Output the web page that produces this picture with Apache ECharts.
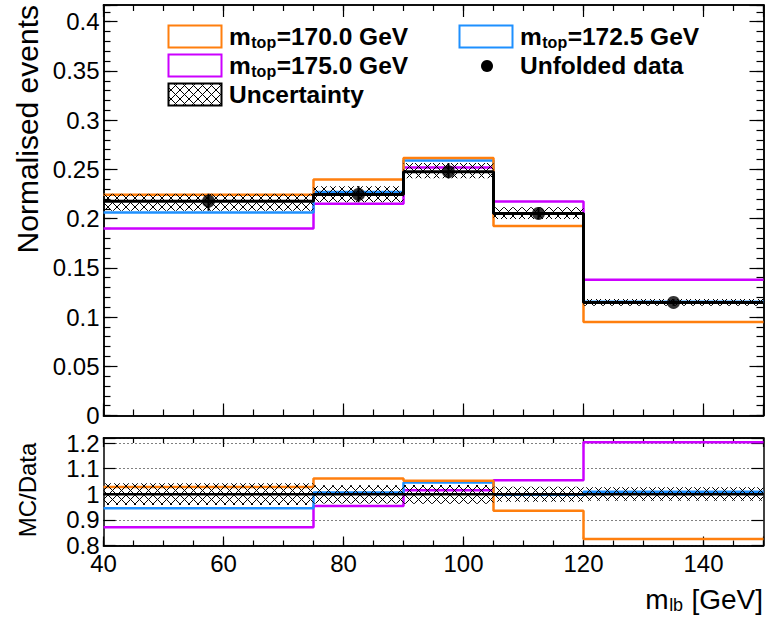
<!DOCTYPE html>
<html><head><meta charset="utf-8">
<script src="https://cdn.jsdelivr.net/npm/echarts@6/dist/echarts.min.js"></script>
<style>html,body{margin:0;padding:0;background:#fff}#c{width:765px;height:619px}</style>
</head><body><div id="c"></div>
<script>
// ---- data ----
const binEdges = [40, 75, 90, 105, 120, 150];
const binCenters = [57.5, 82.5, 97.5, 112.5, 135];
const data = [0.2177, 0.2246, 0.2477, 0.2053, 0.1149];
const dataUp = [0.2253, 0.2330, 0.2564, 0.2115, 0.1183];
const dataDown = [0.2080, 0.2167, 0.2409, 0.1995, 0.1115];
const mc170 = [0.2243, 0.2398, 0.2616, 0.1925, 0.0949];
const mc1725 = [0.2063, 0.2270, 0.2591, 0.2053, 0.1155];
const mc175 = [0.1900, 0.2150, 0.2519, 0.2174, 0.1380];
const ratio170 = [1.029, 1.062, 1.053, 0.936, 0.825];
const ratio1725 = [0.946, 1.007, 1.046, 0.998, 1.010];
const ratio175 = [0.871, 0.954, 1.016, 1.055, 1.203];
const ratioData = [1, 1, 1, 1, 1];
const ratioUp = [1.043, 1.035, 1.036, 1.030, 1.028];
const ratioDown = [0.958, 0.964, 0.963, 0.971, 0.975];
const legendLabels = ['170.0', '172.5', '175.0'];

const C170 = '#ff7f0e', C1725 = '#1e90ff', C175 = '#cc00ff';
const FONT = "'Liberation Sans', Arial, Helvetica, sans-serif";

// hatch pattern
const hc = document.createElement('canvas');
hc.width = 9; hc.height = 9;
const hx = hc.getContext('2d');
hx.strokeStyle = '#000'; hx.lineWidth = 1;
hx.beginPath(); hx.moveTo(0, 0); hx.lineTo(9, 9); hx.moveTo(9, 0); hx.lineTo(0, 9); hx.stroke();
const hatch = { image: hc.toDataURL(), repeat: 'repeat', imageWidth: 9, imageHeight: 9 };

// text measuring
const mctx = document.createElement('canvas').getContext('2d');
function tw(text, size, weight) {
  mctx.font = (weight || 'normal') + ' ' + size + 'px ' + FONT;
  return mctx.measureText(text).width;
}

function fmt(step) {
  return function (v) {
    const k = v / step;
    if (Math.abs(k - Math.round(k)) > 1e-6) return '';
    return String(+(+v).toFixed(4));
  };
}

function xAx(grid, pos, interval, len, labels) {
  return {
    type: 'value', gridIndex: grid, position: pos, min: 40, max: 150, interval: interval,
    axisLine: { show: true, onZero: false, lineStyle: { color: '#000', width: 1.5 } },
    axisTick: { show: true, inside: true, length: len, lineStyle: { color: '#000', width: 1.2 } },
    axisLabel: { show: !!labels, formatter: fmt(20), fontSize: 24, lineHeight: 18, color: '#000', fontFamily: FONT, margin: 9 },
    splitLine: { show: false }, minorTick: { show: false }
  };
}
function yAx(grid, pos, min, max, interval, len, labels, labelStep, split) {
  return {
    type: 'value', gridIndex: grid, position: pos, min: min, max: max, interval: interval,
    axisLine: { show: true, onZero: false, lineStyle: { color: '#000', width: 1.5 } },
    axisTick: { show: true, inside: true, length: len, lineStyle: { color: '#000', width: 1.2 } },
    axisLabel: { show: !!labels, formatter: fmt(labelStep), fontSize: 24, lineHeight: 18, color: '#000', fontFamily: FONT, margin: 4 },
    splitLine: { show: !!split, lineStyle: { color: '#000', width: 1, type: [1, 3] } },
    minorTick: { show: false }
  };
}

const xAxes = [
  xAx(0, 'bottom', 20, 12, false), // 0 main top panel
  xAx(0, 'bottom', 5, 6, false),
  xAx(0, 'top', 20, 12, false),
  xAx(0, 'top', 5, 6, false),
  xAx(1, 'bottom', 20, 9, true),  // 4 main ratio panel
  xAx(1, 'bottom', 5, 5, false),
  xAx(1, 'top', 20, 9, false),
  xAx(1, 'top', 5, 5, false)
];
const yAxes = [
  yAx(0, 'left', 0, 0.417, 0.05, 14, true, 0.05, false), // 0 main top
  yAx(0, 'left', 0, 0.417, 0.01, 7, false, 0.05, false),
  yAx(0, 'right', 0, 0.417, 0.05, 14, false, 0.05, false),
  yAx(0, 'right', 0, 0.417, 0.01, 7, false, 0.05, false),
  yAx(1, 'left', 0.8, 1.22, 0.1, 12, true, 0.1, true), // 4 main ratio
  yAx(1, 'right', 0.8, 1.22, 0.1, 12, false, 0.1, false)
];

function stepData(vals) { return binEdges.map((e, i) => [e, vals[Math.min(i, vals.length - 1)]]); }
function stepSeries(vals, color, width, xi, yi, z) {
  return { type: 'line', xAxisIndex: xi, yAxisIndex: yi, data: stepData(vals), step: 'end',
    showSymbol: false, symbol: 'none', lineStyle: { color: color, width: width }, z: z, silent: true, animation: false };
}
function bandSeries(lo, hi, xi, yi) {
  return {
    type: 'custom', xAxisIndex: xi, yAxisIndex: yi, z: 6, silent: true, animation: false,
    encode: { x: [0, 1], y: [2, 3] },
    data: lo.map((l, i) => [binEdges[i], binEdges[i + 1], l, hi[i]]),
    renderItem: function (params, api) {
      const p0 = api.coord([api.value(0), api.value(3)]);
      const p1 = api.coord([api.value(1), api.value(2)]);
      return { type: 'rect', shape: { x: p0[0], y: p0[1], width: p1[0] - p0[0], height: p1[1] - p0[1] },
        style: { fill: hatch, stroke: null } };
    }
  };
}
function errSeries(xs, lo, hi, xi, yi) {
  return {
    type: 'custom', xAxisIndex: xi, yAxisIndex: yi, z: 9, silent: true, animation: false,
    encode: { x: 0, y: [1, 2] },
    data: xs.map((x, i) => [x, lo[i], hi[i]]),
    renderItem: function (params, api) {
      const a = api.coord([api.value(0), api.value(1)]);
      const b = api.coord([api.value(0), api.value(2)]);
      return { type: 'line', shape: { x1: a[0], y1: a[1], x2: b[0], y2: b[1] }, style: { stroke: '#000', lineWidth: 2 } };
    }
  };
}

const series = [
  stepSeries(mc175, C175, 2.5, 0, 0, 3),
  stepSeries(mc1725, C1725, 2.5, 0, 0, 3),
  stepSeries(mc170, C170, 2.5, 0, 0, 3),
  bandSeries(dataDown, dataUp, 0, 0),
  stepSeries(data, '#000', 3, 0, 0, 7),
  errSeries(binCenters, dataDown, dataUp, 0, 0),
  { type: 'scatter', xAxisIndex: 0, yAxisIndex: 0, data: binCenters.map((x, i) => [x, data[i]]),
    symbol: 'circle', symbolSize: 13, itemStyle: { color: '#000' }, z: 10, silent: true, animation: false },
  stepSeries(ratio175, C175, 2.5, 4, 4, 3),
  stepSeries(ratio1725, C1725, 2.5, 4, 4, 3),
  stepSeries(ratio170, C170, 2.5, 4, 4, 3),
  bandSeries(ratioDown, ratioUp, 4, 4),
  stepSeries(ratioData, '#000', 2.5, 4, 4, 7)
];

function txt(x, y, text, size, weight, align) {
  return { type: 'text', x: x, y: y, z: 100,
    style: { text: text, fontSize: size, lineHeight: Math.round(size * 0.85), fontWeight: weight || 'normal', fontFamily: FONT, fill: '#000',
      align: align || 'left', verticalAlign: 'middle', textAlign: align || 'left', textVerticalAlign: 'middle' } };
}
// main text + subscript + rest, starting at x (left) with vertical centre yc
function subLabel(x, yc, main, sub, rest, size, weight) {
  const subSize = Math.round(size * 0.66);
  const w1 = tw(main, size, weight);
  const w2 = tw(sub, subSize, weight);
  return [
    txt(x, yc, main, size, weight),
    txt(x + w1 + 0.5, yc + 6, sub, subSize, weight),
    txt(x + w1 + w2 + 1, yc, rest, size, weight)
  ];
}
function subLabelRight(xr, yc, main, sub, rest, size, weight) {
  const subSize = Math.round(size * 0.66);
  const total = tw(main, size, weight) + tw(sub, subSize, weight) + tw(rest, size, weight) + 1;
  return subLabel(xr - total, yc, main, sub, rest, size, weight);
}
function legBox(x, yc, stroke, fill) {
  return { type: 'rect', z: 100, shape: { x: x + 0.5, y: yc - 11 + 0.5, width: 53, height: 22 },
    style: { fill: fill || '#fff', stroke: stroke, lineWidth: 2 } };
}
const LS = 24.5;
const rowY = [36, 65, 94];
const graphic = [].concat(
  [legBox(168, rowY[0], C170)], subLabel(229, rowY[0], 'm', 'top', '=' + legendLabels[0] + ' GeV', LS, 'bold'),
  [legBox(459, rowY[0], C1725)], subLabel(520, rowY[0], 'm', 'top', '=' + legendLabels[1] + ' GeV', LS, 'bold'),
  [legBox(168, rowY[1], C175)], subLabel(229, rowY[1], 'm', 'top', '=' + legendLabels[2] + ' GeV', LS, 'bold'),
  [{ type: 'circle', z: 100, shape: { cx: 487, cy: rowY[1] + 1, r: 6 }, style: { fill: '#000' } },
   txt(520, rowY[1], 'Unfolded data', LS, 'bold'),
   legBox(168, rowY[2], '#000', hatch),
   txt(229, rowY[2], 'Uncertainty', LS, 'bold'),
   { type: 'text', x: 27, y: 5, rotation: Math.PI / 2, z: 100,
     style: { text: 'Normalised events', fontSize: 30, fontFamily: FONT, fill: '#000', align: 'right', verticalAlign: 'middle', textAlign: 'right', textVerticalAlign: 'middle' } },
   { type: 'text', x: 27, y: 490, rotation: Math.PI / 2, z: 100,
     style: { text: 'MC/Data', fontSize: 24, fontFamily: FONT, fill: '#000', align: 'center', verticalAlign: 'middle', textAlign: 'center', textVerticalAlign: 'middle' } }],
  subLabelRight(763, 599, 'm', 'lb', ' [GeV]', 28, 'normal')
);

const chart = echarts.init(document.getElementById('c'), null, { renderer: 'svg' });
chart.setOption({
  animation: false,
  backgroundColor: '#fff',
  grid: [
    { left: 103.5, top: 5, width: 660, height: 410.5, containLabel: false, outerBoundsMode: 'none' },
    { left: 103.5, top: 438, width: 660, height: 107.5, containLabel: false, outerBoundsMode: 'none' }
  ],
  xAxis: xAxes,
  yAxis: yAxes,
  series: series,
  graphic: graphic
});
</script>
</body></html>
